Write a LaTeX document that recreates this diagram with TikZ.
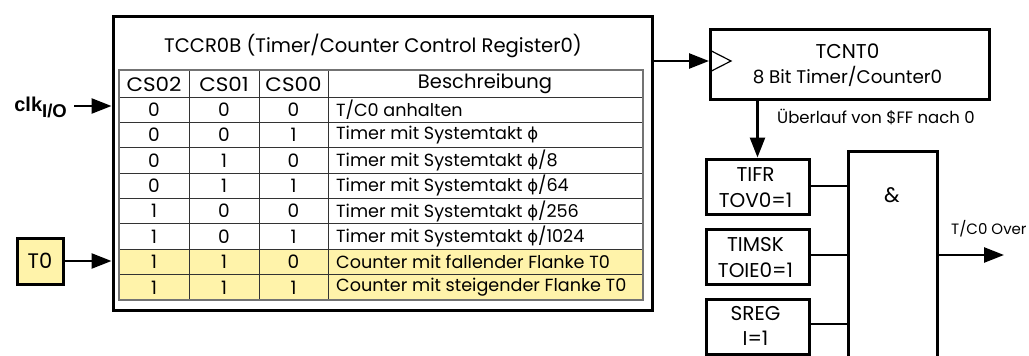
\documentclass[tikz,border=0pt]{standalone}
\usepackage{fontspec}
\setmainfont{Poppins}
\newfontfamily\clkfont{Liberation Sans}
\newfontfamily\greekfont{DejaVu Sans}
\newcommand{\phisym}{{\greekfont\fontsize{16.5}{19}\selectfont ϕ}}
\usetikzlibrary{arrows.meta}
\definecolor{hl}{RGB}{255,243,170}
\tikzset{
  thickbox/.style={draw, line width=3pt, fill=white, inner sep=0pt},
  conn/.style={line width=2.6pt},
  arr/.style={line width=2.6pt, -{Triangle[length=20pt,width=15pt]}},
  grid/.style={draw=black!80, line width=1pt},
  txt/.style={inner sep=0pt, font=\fontsize{17.6}{21}\selectfont},
  hdr/.style={inner sep=0pt, font=\fontsize{19.5}{22}\selectfont},
  flag/.style={inner sep=0pt, font=\fontsize{20}{22}\selectfont},
  lbl/.style={inner sep=0pt, font=\fontsize{16.5}{19}\selectfont},
}
\begin{document}
\begin{tikzpicture}[x=1pt,y=-1pt]
\useasboundingbox (0,0) rectangle (1029,356);
\fill[white] (0,0) rectangle (1029,356);

% register box
\node[thickbox, minimum width=539pt, minimum height=294pt, anchor=north west] (reg) at (111.5,14.5) {};
\node[inner sep=0pt, font=\fontsize{19.6}{22}\selectfont] (title) at (373,46) {TCCR0B (Timer/Counter Control Register0)};

% table highlight
\fill[hl] (119,249.3) rectangle (643,300);
% grid
\foreach \y in {97,122.4,147.8,173.1,198.5,223.9,249.3,274.6}
  \draw[grid] (119,\y) -- (643,\y);
\foreach \x in {189,259,328}
  \draw[grid] (\x,70) -- (\x,300);
\draw[draw=black!55, line width=1.4pt] (119,70) rectangle (643,300);

% header
\node[hdr] (h1) at (154,84) {\scalebox{1.1}[1]{CS02}};
\node[hdr] (h2) at (224,84) {\scalebox{1.1}[1]{CS01}};
\node[hdr] (h3) at (293.5,84) {\scalebox{1.1}[1]{CS00}};
\node[hdr] (h4) at (485,84) {Beschreibung};

% rows
\foreach \a/\b/\c/\d [count=\i] in {
  0/0/0/{T/C0 anhalten},
  0/0/1/{Timer mit Systemtakt \phisym},
  0/1/0/{Timer mit Systemtakt \phisym/8},
  0/1/1/{Timer mit Systemtakt \phisym/64},
  1/0/0/{Timer mit Systemtakt \phisym/256},
  1/0/1/{Timer mit Systemtakt \phisym/1024},
  1/1/0/{Counter mit fallender Flanke T0},
  1/1/1/{Counter mit steigender Flanke T0}}{
  \pgfmathsetmacro{\yy}{97+25.375*(\i-1)+12.7}
  \node[txt, font=\fontsize{18.5}{21}\selectfont] (r\i a) at (154,\yy) {\a};
  \node[txt, font=\fontsize{18.5}{21}\selectfont] (r\i b) at (224,\yy) {\b};
  \node[txt, font=\fontsize{18.5}{21}\selectfont] (r\i c) at (293.5,\yy) {\c};
  \node[txt, anchor=west] (r\i d) at (336,\yy) {\d};
}

% clk input
\node[inner sep=0pt, anchor=east, font=\clkfont\bfseries\fontsize{20}{22}\selectfont] (clk) at (67,107) {clk\raisebox{-6pt}{\fontsize{18.5}{20}\selectfont I/O}};
\coordinate (clkin) at (reg.west |- 0,106);
\coordinate (clkstart) at (74,106);
\draw[arr] (clkstart) -- (clkin);

% T0 input
\node[thickbox, fill=hl, minimum width=46pt, minimum height=46pt, inner sep=0pt, font=\fontsize{21}{23}\selectfont] (t0) at (40,261) {T0};
\draw[arr] (t0.east) -- (t0.east -| reg.west);

% TCNT0
\node[thickbox, minimum width=279pt, minimum height=70pt, anchor=north west] (tcnt) at (709,27.5) {};
\node[inner sep=0pt, font=\fontsize{20}{22}\selectfont] (tcnttitle) at (847.5,51) {TCNT0};
\node[inner sep=0pt, font=\fontsize{18.3}{21}\selectfont] (tcntsub) at (847.5,76) {8 Bit Timer/Counter0};
\draw[line width=1.2pt] (709.5,50) -- (731,61) -- (709.5,72);
\draw[arr] (reg.east |- 0,61) -- (tcnt.west |- 0,61);

% flag boxes
\node[thickbox, minimum width=103pt, minimum height=55pt, anchor=north west] (tifr) at (704.5,157.5) {};
\node[flag] (tifra) at (755.5,175) {TIFR};
\node[flag] (tifrb) at (755.5,200) {TOV0=1};
\node[thickbox, minimum width=103pt, minimum height=55pt, anchor=north west] (timsk) at (704.5,227.5) {};
\node[flag] (timska) at (755.5,245) {TIMSK};
\node[flag] (timskb) at (755.5,270) {TOIE0=1};
\node[thickbox, minimum width=103pt, minimum height=55pt, anchor=north west] (sreg) at (704.5,297.5) {};
\node[flag] (srega) at (755.5,314) {SREG};
\node[flag] (sregb) at (755.5,338) {I=1};

% overflow arrow
\draw[arr] (tcnt.south -| tifr.north) -- (tifr.north);
\node[lbl, anchor=west] (ovl) at (777,117) {Überlauf von \$FF nach 0};

% AND gate (bottom off picture)
\node[inner sep=0pt, minimum width=89pt, minimum height=205pt, anchor=north west] (and) at (848,151) {};
\draw[line width=3pt] (and.south west) -- (and.north west) -- (and.north east) -- (and.south east);
\node[inner sep=0pt, font=\fontsize{21}{23}\selectfont] (amp) at (892,195) {\&};

\draw[conn] (tifr.east |- 0,186) -- (and.west |- 0,186);
\draw[conn] (timsk.east |- 0,255) -- (and.west |- 0,255);
\draw[conn] (sreg.east |- 0,324) -- (and.west |- 0,324);

\coordinate (outend) at (1004,255);
\draw[arr] (and.east |- 0,255) -- (outend);
\node[inner sep=0pt, anchor=west, font=\fontsize{15}{18}\selectfont] (outlbl) at (951,229) {T/C0 Over};
\end{tikzpicture}
\end{document}
